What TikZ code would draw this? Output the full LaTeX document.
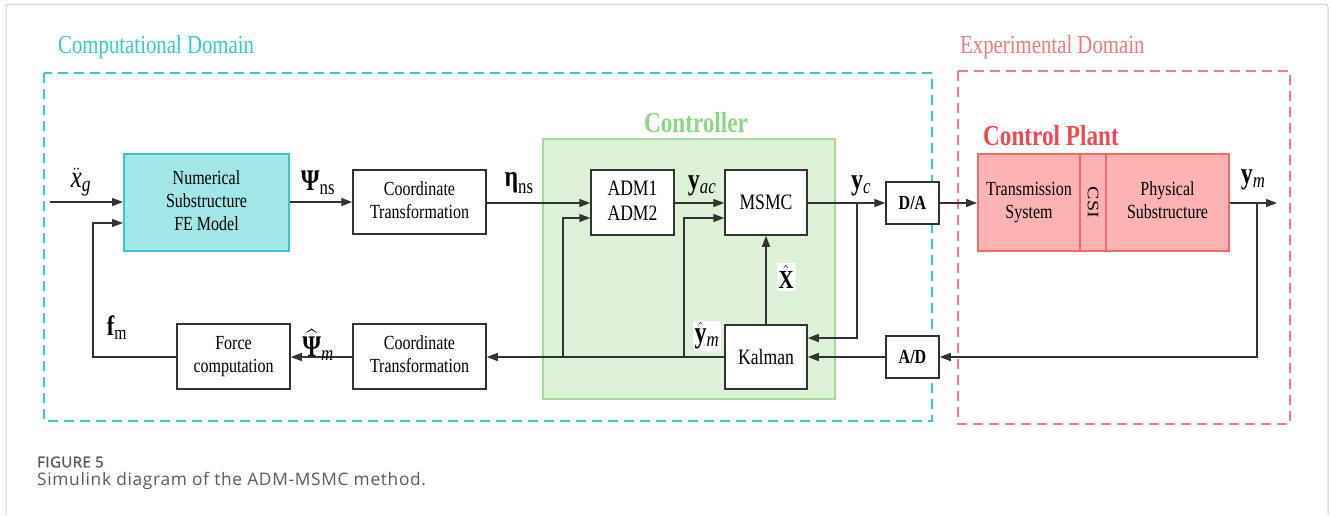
\documentclass[tikz,border=0pt]{standalone}
\usepackage{amsmath,bm,graphicx}
\usepackage{fontspec}
\setmainfont{Liberation Serif}
\newfontfamily\capfont[LetterSpace=4]{Open Sans}
\newfontfamily\capfontb[LetterSpace=3,FakeBold=1.5]{Open Sans}
\usetikzlibrary{arrows.meta}
\definecolor{cyanD}{HTML}{3CC8C8}
\definecolor{cyanF}{HTML}{A2E6E8}
\definecolor{cyanB}{HTML}{3CC6C9}
\definecolor{greenF}{HTML}{DDF1D6}
\definecolor{greenB}{HTML}{A8D89C}
\definecolor{greenT}{HTML}{8ED588}
\definecolor{redD}{HTML}{F27A82}
\definecolor{redF}{HTML}{FDB3B3}
\definecolor{redB}{HTML}{F26B6B}
\definecolor{redT}{HTML}{F04A4E}
\definecolor{lineC}{HTML}{333333}
\definecolor{frameC}{HTML}{CCCCCC}
\definecolor{capC}{HTML}{5A5A5A}
\newcommand\sq[1]{\scalebox{0.8}[1]{#1}}
\newcommand\sqt[1]{\scalebox{0.8}[1]{\begin{tabular}{@{}c@{}}#1\end{tabular}}}
\tikzset{
  blk/.style={draw=lineC, line width=1.5pt, fill=white, inner sep=0pt, align=center,
    font=\fontsize{20}{23}\selectfont},
  conn/.style={draw=lineC, line width=1.5pt, -{Triangle[length=11pt,width=8pt]}},
  lbl/.style={inner sep=0pt, font=\fontsize{30}{32}\selectfont},
  dombox/.style={line width=1.8pt, dash pattern=on 10pt off 6pt},
}
\begin{document}
\begin{tikzpicture}[x=1pt,y=-1pt]
\useasboundingbox (0,0) rectangle (1330,515);
% outer frame
\draw[frameC, line width=1pt, rounded corners=3pt] (6,515) -- (6,4) -- (1328,4) -- (1328,515);
% domains
\node[anchor=west, text=cyanD, font=\fontsize{26}{30}\selectfont, inner sep=0pt] (compT) at (58,47) {\sq{Computational Domain}};
\draw[dombox, draw=cyanD] (44,73) rectangle (932,421);
\node[anchor=west, text=redD, font=\fontsize{26}{30}\selectfont, inner sep=0pt] (expT) at (960,47) {\sq{Experimental Domain}};
\draw[dombox, draw=redD] (958,71) rectangle (1290,424);
% controller
\draw[fill=greenF, draw=greenB, line width=1.8pt] (543,139) rectangle (835,399);
\node[text=greenT, font=\bfseries\fontsize{29}{32}\selectfont, inner sep=0pt] (ctrlT) at (696,123) {\sq{Controller}};
% blocks
\node[blk, fill=cyanF, draw=cyanB, line width=2pt, minimum width=165pt, minimum height=97pt] (num) at (206.5,202.5) {\sqt{Numerical\\Substructure\\FE Model}};
\node[blk, minimum width=133pt, minimum height=64pt] (ct1) at (419.5,202) {\sqt{Coordinate\\Transformation}};
\node[blk, minimum width=133pt, minimum height=65pt] (ct2) at (419.5,356.5) {\sqt{Coordinate\\Transformation}};
\node[blk, minimum width=113pt, minimum height=65pt] (force) at (233.5,356.5) {\sqt{Force\\computation}};
\node[blk, minimum width=83pt, minimum height=65pt, font=\fontsize{22}{25}\selectfont] (adm) at (632.5,202.5) {\sqt{ADM1\\ADM2}};
\node[blk, minimum width=82pt, minimum height=65pt, font=\fontsize{22}{25}\selectfont] (msmc) at (766,202.5) {\sq{MSMC}};
\node[blk, minimum width=82pt, minimum height=64pt, font=\fontsize{22}{25}\selectfont] (kal) at (766,357) {\sq{Kalman}};
\node[blk, minimum width=53pt, minimum height=42pt, font=\bfseries\fontsize{20}{23}\selectfont] (da) at (912.5,203) {\sq{D/A}};
\node[blk, minimum width=53pt, minimum height=42pt, font=\bfseries\fontsize{20}{23}\selectfont] (ad) at (912.5,357) {\sq{A/D}};
% control plant
\node[blk, fill=redF, draw=redB, line width=2pt, minimum width=102pt, minimum height=97pt] (trans) at (1029,202.5) {\sqt{Transmission\\System}};
\node[blk, fill=redF, draw=redB, line width=2pt, minimum width=26pt, minimum height=97pt] (csi) at (1093,202.5) {};
\node[rotate=-90, font=\fontsize{20}{23}\selectfont, inner sep=0pt] (csiT) at (csi.center) {\scalebox{1}[0.8]{CSI}};
\node[blk, fill=redF, draw=redB, line width=2pt, minimum width=123pt, minimum height=97pt] (phys) at (1167.5,202.5) {\sqt{Physical\\Substructure}};
\node[anchor=west, text=redT, font=\bfseries\fontsize{29}{32}\selectfont, inner sep=0pt] (plantT) at (983,136) {\sq{Control Plant}};
% coordinates
\coordinate (inL) at (50,202);
\coordinate (fbC) at (93,357);
\coordinate (fbT) at (93,223);
\coordinate (j1) at (563,357);
\coordinate (j1t) at (563,218);
\coordinate (j2) at (684,357);
\coordinate (j2t) at (684,218);
\coordinate (ycB) at (857,203);
\coordinate (ycD) at (857,338);
\coordinate (ymB) at (1257,203);
\coordinate (ymD) at (1257,357);
\coordinate (outR) at (1277,203);
% connectors
\draw[conn] (inL) -- (inL -| num.west);
\draw[conn] (force.west |- fbC) -- (fbC) -- (fbT) -- (fbT -| num.west);
\draw[conn] (num.east |- ct1.west) -- (ct1.west);
\draw[conn] (ct1.east |- 0,203) -- (adm.west |- 0,203);
\draw[conn] (j1) -- (j1t) -- (j1t -| adm.west);
\draw[conn] (adm.east |- 0,203) -- (msmc.west |- 0,203);
\draw[conn] (j2) -- (j2t) -- (j2t -| msmc.west);
\draw[conn] (msmc.east |- 0,203) -- (da.west);
\draw[conn] (ycB) -- (ycD) -- (ycD -| kal.east);
\draw[conn] (kal.north) -- (msmc.south);
\draw[conn] (ad.west) -- (kal.east |- ad.west);
\draw[conn] (kal.west |- 0,357) -- (ct2.east |- 0,357);
\draw[conn] (ct2.west |- 0,357) -- (force.east |- 0,357);
\draw[conn] (da.east) -- (trans.west |- da.east);
\draw[conn] (phys.east |- 0,203) -- (outR);
\draw[conn] (ymB) -- (ymD) -- (ad.east |- ymD);
% labels
\node[lbl, font=\fontsize{31}{33}\selectfont] (lxg) at (81,182) {\sq{$\ddot{\mathit{x}}_{\mathit{g}}$}};
\node[lbl] (lpsi) at (318,183) {\sq{$\text{\bfseries Ψ}_{\mathrm{ns}}$}};
\node[lbl] (leta) at (519,183) {\sq{$\text{\bfseries η}_{\mathrm{ns}}$}};
\node[lbl] (lyac) at (702,186) {\sq{$\mathbf{y}_{\mathit{ac}}$}};
\node[lbl] (lyc) at (861,186) {\sq{$\mathbf{y}_{\mathit{c}}$}};
\node[lbl] (lym) at (1253,180) {\sq{$\mathbf{y}_{\mathit{m}}$}};
\node[lbl, font=\fontsize{26}{28}\selectfont, fill=white, inner sep=2pt] (lxh) at (786,277) {\sq{$\hat{\text{\bfseries X}}$}};
\node[lbl, fill=white, inner sep=2pt] (lyh) at (707,336) {\sq{$\hat{\mathbf{y}}_{\mathit{m}}$}};
\node[lbl] (lpsih) at (318,345) {\sq{$\widehat{\text{\bfseries Ψ}}_{\mathit{m}}$}};
\node[lbl, font=\fontsize{28}{30}\selectfont] (lfm) at (117,328) {\sq{$\mathbf{f}_{\mathrm{m}}$}};
% caption
\node[anchor=west, text=capC, font=\capfontb\fontsize{15}{17}\selectfont, inner sep=0pt] (capA) at (37,462) {FIGURE 5};
\node[anchor=west, text=capC, font=\capfont\fontsize{17.3}{20}\selectfont, inner sep=0pt] (capB) at (37,481) {Simulink diagram of the ADM-MSMC method.};
\end{tikzpicture}
\end{document}
